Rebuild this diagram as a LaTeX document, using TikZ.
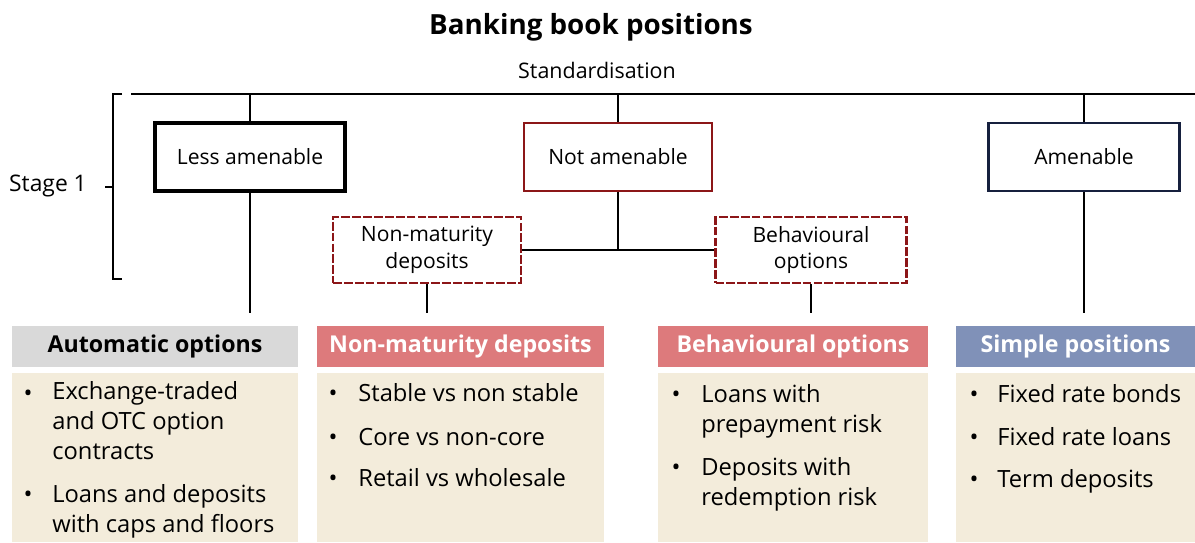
\documentclass[tikz,border=0pt]{standalone}
\usepackage{fontspec}
\setmainfont{Open Sans}
\definecolor{dkred}{RGB}{140,22,24}
\definecolor{navyline}{RGB}{22,32,62}
\definecolor{hdgray}{RGB}{217,217,217}
\definecolor{hdred}{RGB}{221,122,124}
\definecolor{hdblue}{RGB}{128,145,184}
\definecolor{bodyfill}{RGB}{243,236,219}
\tikzset{
  catbox/.style={draw, line width=1.4pt, minimum height=1.36cm, inner sep=2pt,
    font=\fontsize{12}{15}\selectfont},
  subbox/.style={draw=dkred, line width=1.6pt, dash pattern=on 5pt off 1.2pt,
    minimum height=1.32cm, align=center, inner sep=2pt,
    font=\fontsize{12}{15.3}\selectfont},
  headbox/.style={minimum height=0.82cm, inner sep=0pt, text=white,
    font=\bfseries\fontsize{13.2}{16}\selectfont},
  itemtext/.style={anchor=base west, align=left, inner sep=0pt,
    font=\fontsize{13.5}{17}\selectfont},
  bulletmark/.style={anchor=base, inner sep=0pt, font=\fontsize{13.5}{17}\selectfont},
  link/.style={line width=1.1pt},
}
\begin{document}
\begin{tikzpicture}[x=0.02cm, y=-0.02cm]
    \useasboundingbox (0,0) rectangle (1195,542);
    \node[font=\bfseries\fontsize{15.8}{18}\selectfont] (title) at (591,27) {Banking book positions};
    \node[font=\fontsize{12.2}{14}\selectfont] (std) at (597,70) {Standardisation};
    \coordinate (barL) at (131,94);
    \coordinate (barR) at (1195,94);
    \draw[link] (barL) -- (barR);
    % stage bracket
    \draw[link] (122,94) -- (113,94) -- (113,279) -- (122,279);
    \draw[link] (105,187) -- (113,187);
    \node[font=\fontsize{13}{15}\selectfont] (stage) at (48,186) {Stage 1};

    \node[catbox, line width=2.3pt, minimum width=3.8cm] (less) at (250,157) {Less amenable};
    \node[catbox, draw=dkred, minimum width=3.76cm] (notam) at (618,157) {Not amenable};
    \node[catbox, draw=navyline, minimum width=3.82cm] (amen) at (1084,157) {Amenable};
    \node[subbox, minimum width=3.76cm] (nmd) at (427,250) {Non-maturity\\deposits};
    \node[subbox, minimum width=3.82cm] (beh) at (811,250) {Behavioural\\options};

    \node[headbox, fill=hdgray, text=black, minimum width=5.72cm] (aohead) at (155,346.5) {Automatic options};
    \node[headbox, fill=hdred, minimum width=5.74cm] (nmdhead) at (460.5,346.5) {Non-maturity deposits};
    \node[headbox, fill=hdred, minimum width=5.4cm] (behhead) at (793,346.5) {Behavioural options};
    \node[headbox, fill=hdblue, minimum width=4.78cm] (sphead) at (1075.5,346.5) {Simple positions};

    \fill[bodyfill] (12,373) rectangle (298,542);
    \fill[bodyfill] (317,373) rectangle (604,542);
    \fill[bodyfill] (658,373) rectangle (928,542);
    \fill[bodyfill] (956,373) rectangle (1195,542);

    \draw[link] (less.north |- barL) -- (less.north);
    \draw[link] (notam.north |- barL) -- (notam.north);
    \draw[link] (amen.north |- barL) -- (amen.north);
    \draw[link] (nmd.east) -- (beh.west);
    \draw[link] (notam.south) -- (notam.south |- nmd.east);
    \draw[link, shorten >=0.26cm] (less.south) -- (less.south |- aohead.north);
    \draw[link, shorten >=0.26cm] (nmd.south) -- (nmd.south |- nmdhead.north);
    \draw[link, shorten >=0.26cm] (beh.south) -- (beh.south |- behhead.north);
    \draw[link, shorten >=0.26cm] (amen.south) -- (amen.south |- sphead.north);

    % item lists (base of a wrapped item = its last line)
    \node[bulletmark] (aob1) at (28,401) {•};
    \node[itemtext] (aoi1) at (52,459) {Exchange-traded\\and OTC option\\contracts};
    \node[bulletmark] (aob2) at (28,502) {•};
    \node[itemtext] (aoi2) at (52,532) {Loans and deposits\\with caps and floors};

    \node[bulletmark] (nmdb1) at (333,401) {•};
    \node[itemtext] (nmdi1) at (358,401) {Stable vs non stable};
    \node[bulletmark] (nmdb2) at (333,445) {•};
    \node[itemtext] (nmdi2) at (358,445) {Core vs non-core};
    \node[bulletmark] (nmdb3) at (333,486) {•};
    \node[itemtext] (nmdi3) at (358,486) {Retail vs wholesale};

    \node[bulletmark] (behb1) at (676,402) {•};
    \node[itemtext] (behi1) at (701,432) {Loans with\\prepayment risk};
    \node[bulletmark] (behb2) at (676,475) {•};
    \node[itemtext] (behi2) at (701,505) {Deposits with\\redemption risk};

    \node[bulletmark] (spb1) at (974,402) {•};
    \node[itemtext] (spi1) at (997,402) {Fixed rate bonds};
    \node[bulletmark] (spb2) at (974,445) {•};
    \node[itemtext] (spi2) at (997,445) {Fixed rate loans};
    \node[bulletmark] (spb3) at (974,487) {•};
    \node[itemtext] (spi3) at (997,487) {Term deposits};
\end{tikzpicture}
\end{document}
